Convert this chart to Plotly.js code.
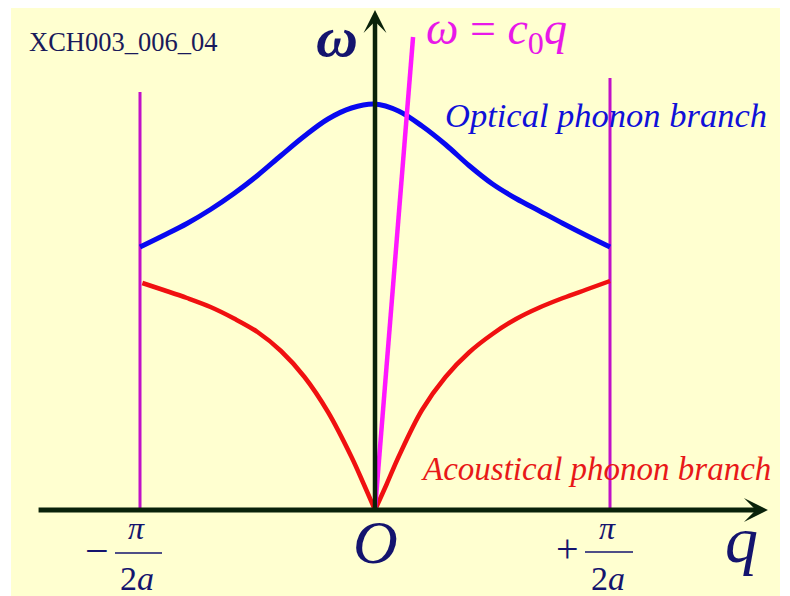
<!DOCTYPE html>
<html>
<head>
<meta charset="utf-8">
<script src="https://cdn.plot.ly/plotly-3.0.1.min.js"></script>
<style>html,body{margin:0;padding:0;background:#fff;}#chart{width:790px;height:596px;}</style>
</head>
<body>
<div id="chart"></div>
<script>
// q in units of pi/(2a); omega in arbitrary units
const opticalQ = [-1.0,-0.9,-0.8,-0.7,-0.6,-0.5,-0.4,-0.3,-0.2,-0.1,0.0,0.1,0.2,0.3,0.4,0.5,0.6,0.7,0.8,0.9,1.0];
const opticalW = [2.63,2.745,2.865,3.005,3.165,3.345,3.545,3.74,3.91,4.02,4.06,3.99,3.84,3.655,3.445,3.26,3.115,2.99,2.865,2.745,2.63];
const acousticQ = [-0.99,-0.9,-0.8,-0.7,-0.6,-0.5,-0.4,-0.3,-0.2,-0.1,-0.05,0.0,0.05,0.1,0.2,0.3,0.4,0.5,0.6,0.7,0.8,0.9,1.0];
const acousticW = [2.27,2.20,2.12,2.03,1.915,1.78,1.59,1.33,0.98,0.53,0.27,0.0,0.26,0.53,1.00,1.33,1.575,1.76,1.91,2.025,2.12,2.205,2.29];
const soundQ = [0.00,0.162];
const soundW = [0.00,4.73];
const zoneQ = [-1, 1];
const zoneTop = [4.18, 4.32];
const axisTipQ = 1.672, axisTailQ = -1.438, axisTipW = 5.0;

// pixel helpers for placing decorative text (layout only)
const X0 = 375, SX = 235, Y0 = 510, SY = 100;
const q = px => (px - X0) / SX;
const w = py => (Y0 - py) / SY;

const navy = '#14146e';
const serif = 'Liberation Serif, Times New Roman, serif';

// split acoustic branch at the origin so the V stays sharp
const accL = {x: [], y: []}, accR = {x: [], y: []};
acousticQ.forEach((v, i) => {
  if (v <= 0) { accL.x.push(v); accL.y.push(acousticW[i]); }
  if (v >= 0) { accR.x.push(v); accR.y.push(acousticW[i]); }
});

const traces = [
  {x: [zoneQ[0], zoneQ[0]], y: [0, zoneTop[0]], mode: 'lines', line: {color: '#c010c8', width: 3}, hoverinfo: 'skip'},
  {x: [zoneQ[1], zoneQ[1]], y: [0, zoneTop[1]], mode: 'lines', line: {color: '#c010c8', width: 3}, hoverinfo: 'skip'},
  {x: opticalQ, y: opticalW, mode: 'lines', line: {color: '#0808f0', width: 5, shape: 'spline', smoothing: 1}, name: 'Optical'},
  {x: accL.x, y: accL.y, mode: 'lines', line: {color: '#f01010', width: 4.5, shape: 'spline', smoothing: 1}, name: 'Acoustical'},
  {x: accR.x, y: accR.y, mode: 'lines', line: {color: '#f01010', width: 4.5, shape: 'spline', smoothing: 1}, name: 'Acoustical'},
  {x: soundQ, y: soundW, mode: 'lines', line: {color: '#ff18ff', width: 4.5}, name: 'sound'}
];

const ann = [];
// axes arrows
ann.push({x: axisTipQ, y: 0, ax: axisTailQ, ay: 0, xref: 'x', yref: 'y', axref: 'x', ayref: 'y', text: '', showarrow: true, arrowhead: 3, arrowsize: 0.8, arrowwidth: 5, arrowcolor: '#0a220a', standoff: 0});
ann.push({x: 0, y: axisTipW, ax: 0, ay: 0, xref: 'x', yref: 'y', axref: 'x', ayref: 'y', text: '', showarrow: true, arrowhead: 3, arrowsize: 0.85, arrowwidth: 4.5, arrowcolor: '#0a220a', standoff: 0});
function t(text, px, py, size, color, opts) {
  ann.push(Object.assign({x: q(px), y: w(py), xref: 'x', yref: 'y', text: text, showarrow: false,
    font: {family: serif, size: size, color: color}, xanchor: 'center', yanchor: 'middle'}, opts || {}));
}
t('XCH003_006_04', 27, 42, 26.5, '#1a1a5a', {xanchor: 'left'});
t('<b><i>ω</i></b>', 337, 36, 58, navy);
t('<i>ω</i> = <i>c</i><sub>0</sub><i>q</i>', 424, 32, 46, '#e818e8', {xanchor: 'left'});
t('<i>Optical phonon branch</i>', 443, 115, 34.5, '#1010d8', {xanchor: 'left'});
t('<i>Acoustical phonon branch</i>', 419, 469, 33, '#e81818', {xanchor: 'left'});
t('<i>O</i>', 375, 542, 62, navy);
t('<i>q</i>', 741, 539, 66, navy);
t('<i>π</i>', 136, 528, 32, navy);
t('<i>π</i>', 607, 528, 32, navy);
t('2<i>a</i>', 137, 578, 34, navy);
t('2<i>a</i>', 608, 578, 34, navy);
t('−', 97, 551, 42, navy);
t('+', 567, 548, 40, navy);

const layout = {
  width: 790, height: 596,
  margin: {l: 0, r: 0, t: 0, b: 0},
  paper_bgcolor: '#ffffff', plot_bgcolor: 'rgba(0,0,0,0)',
  showlegend: false,
  xaxis: {range: [q(0), q(790)], visible: false, fixedrange: true},
  yaxis: {range: [w(596), w(0)], visible: false, fixedrange: true},
  shapes: [
    {type: 'rect', xref: 'paper', yref: 'paper', x0: 11/790, x1: 780/790, y0: 0, y1: 1 - 8/596, fillcolor: '#ffffd0', line: {width: 0}, layer: 'below'},
    {type: 'line', xref: 'x', yref: 'y', x0: q(115), x1: q(162), y0: w(553), y1: w(553), line: {color: navy, width: 1.5}},
    {type: 'line', xref: 'x', yref: 'y', x0: q(585), x1: q(633), y0: w(552), y1: w(552), line: {color: navy, width: 1.5}}
  ],
  annotations: ann
};
Plotly.newPlot('chart', traces, layout, {displayModeBar: false, staticPlot: true});
</script>
</body>
</html>
